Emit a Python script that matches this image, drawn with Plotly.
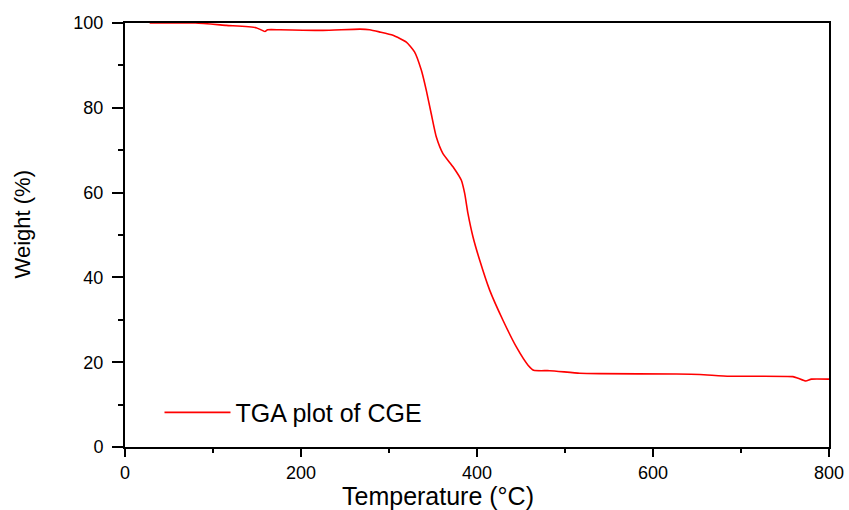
import plotly.graph_objects as go

# Temperature (°C) and weight (%)
temperature = [28, 80, 115, 149, 159, 162, 176, 225, 267, 278, 289, 304.5, 319.7, 329,
               336.7, 342.4, 348, 353.8, 361.3, 372.7, 382.2, 386, 389.7, 395.4, 403,
               414.4, 429.5, 444.7, 458, 464.4, 482.6, 516.7, 539.4, 626.6, 653, 687,
               759, 765, 773.6, 780, 800]
weight = [100, 100, 99.45, 98.9, 98.0, 98.4, 98.4, 98.25, 98.55, 98.4, 97.9, 97.1, 95.5, 93.2,
          88.9, 84.1, 78.6, 73.1, 69.2, 66.1, 62.9, 59.8, 55.1, 49.6, 44.1,
          37.0, 29.9, 23.6, 19.3, 18.1, 18.0, 17.4, 17.3, 17.2, 17.1, 16.7,
          16.6, 16.2, 15.55, 16.0, 16.0]

series_name = "TGA plot of CGE"
x_title = "Temperature (°C)"
y_title = "Weight (%)"
x_ticks = [0, 200, 400, 600, 800]
y_ticks = [0, 20, 40, 60, 80, 100]

FONT = "Liberation Sans, Arial, sans-serif"

fig = go.Figure()
fig.add_trace(go.Scatter(
    x=temperature, y=weight, mode="lines", name=series_name,
    line=dict(color="#ff0000", width=1.6, shape="spline", smoothing=0.5),
    showlegend=True,
))

fig.update_layout(
    width=849, height=510,
    margin=dict(l=125, r=20, t=23, b=63, autoexpand=False),
    paper_bgcolor="white", plot_bgcolor="white",
    font=dict(family=FONT, color="black"),
    showlegend=True,
    legend=dict(
        x=0.049, y=0.081, xanchor="left", yanchor="middle",
        bgcolor="rgba(0,0,0,0)", borderwidth=0,
        font=dict(family=FONT, size=25, color="black"),
        itemwidth=66,
    ),
    annotations=[
        dict(text=x_title, xref="paper", yref="paper", x=0.444, y=-0.1156,
             xanchor="center", yanchor="middle", showarrow=False,
             font=dict(family=FONT, size=25, color="black")),
        dict(text=y_title, xref="paper", yref="paper", x=-0.1443, y=0.526,
             xanchor="center", yanchor="middle", showarrow=False, textangle=-90,
             font=dict(family=FONT, size=22, color="black")),
    ],
)

fig.update_xaxes(
    range=[0, 800], tickvals=x_ticks, ticktext=[str(v) for v in x_ticks],
    showgrid=False, zeroline=False, automargin=False,
    showline=True, linecolor="black", linewidth=2, mirror=True,
    ticks="outside", ticklen=8, tickwidth=2, tickcolor="black",
    tickfont=dict(family=FONT, size=18, color="black"),
    minor=dict(ticks="outside", ticklen=4, tickwidth=2, tickcolor="black", dtick=100, showgrid=False),
)
fig.update_yaxes(
    range=[0, 100], tickvals=y_ticks, ticktext=[str(v) for v in y_ticks],
    showgrid=False, zeroline=False, automargin=False,
    showline=True, linecolor="black", linewidth=2, mirror=True,
    ticks="outside", ticklen=11, tickwidth=2, tickcolor="black",
    ticklabelstandoff=5,
    tickfont=dict(family=FONT, size=18, color="black"),
    minor=dict(ticks="outside", ticklen=5, tickwidth=2, tickcolor="black", dtick=10, showgrid=False),
)

# remove the page's default body margin so the 849x510 figure fills the window
fig.write_html(
    "out.html",
    config={"displayModeBar": False},
    post_script="document.body.style.margin='0';document.body.style.overflow='hidden';",
)
